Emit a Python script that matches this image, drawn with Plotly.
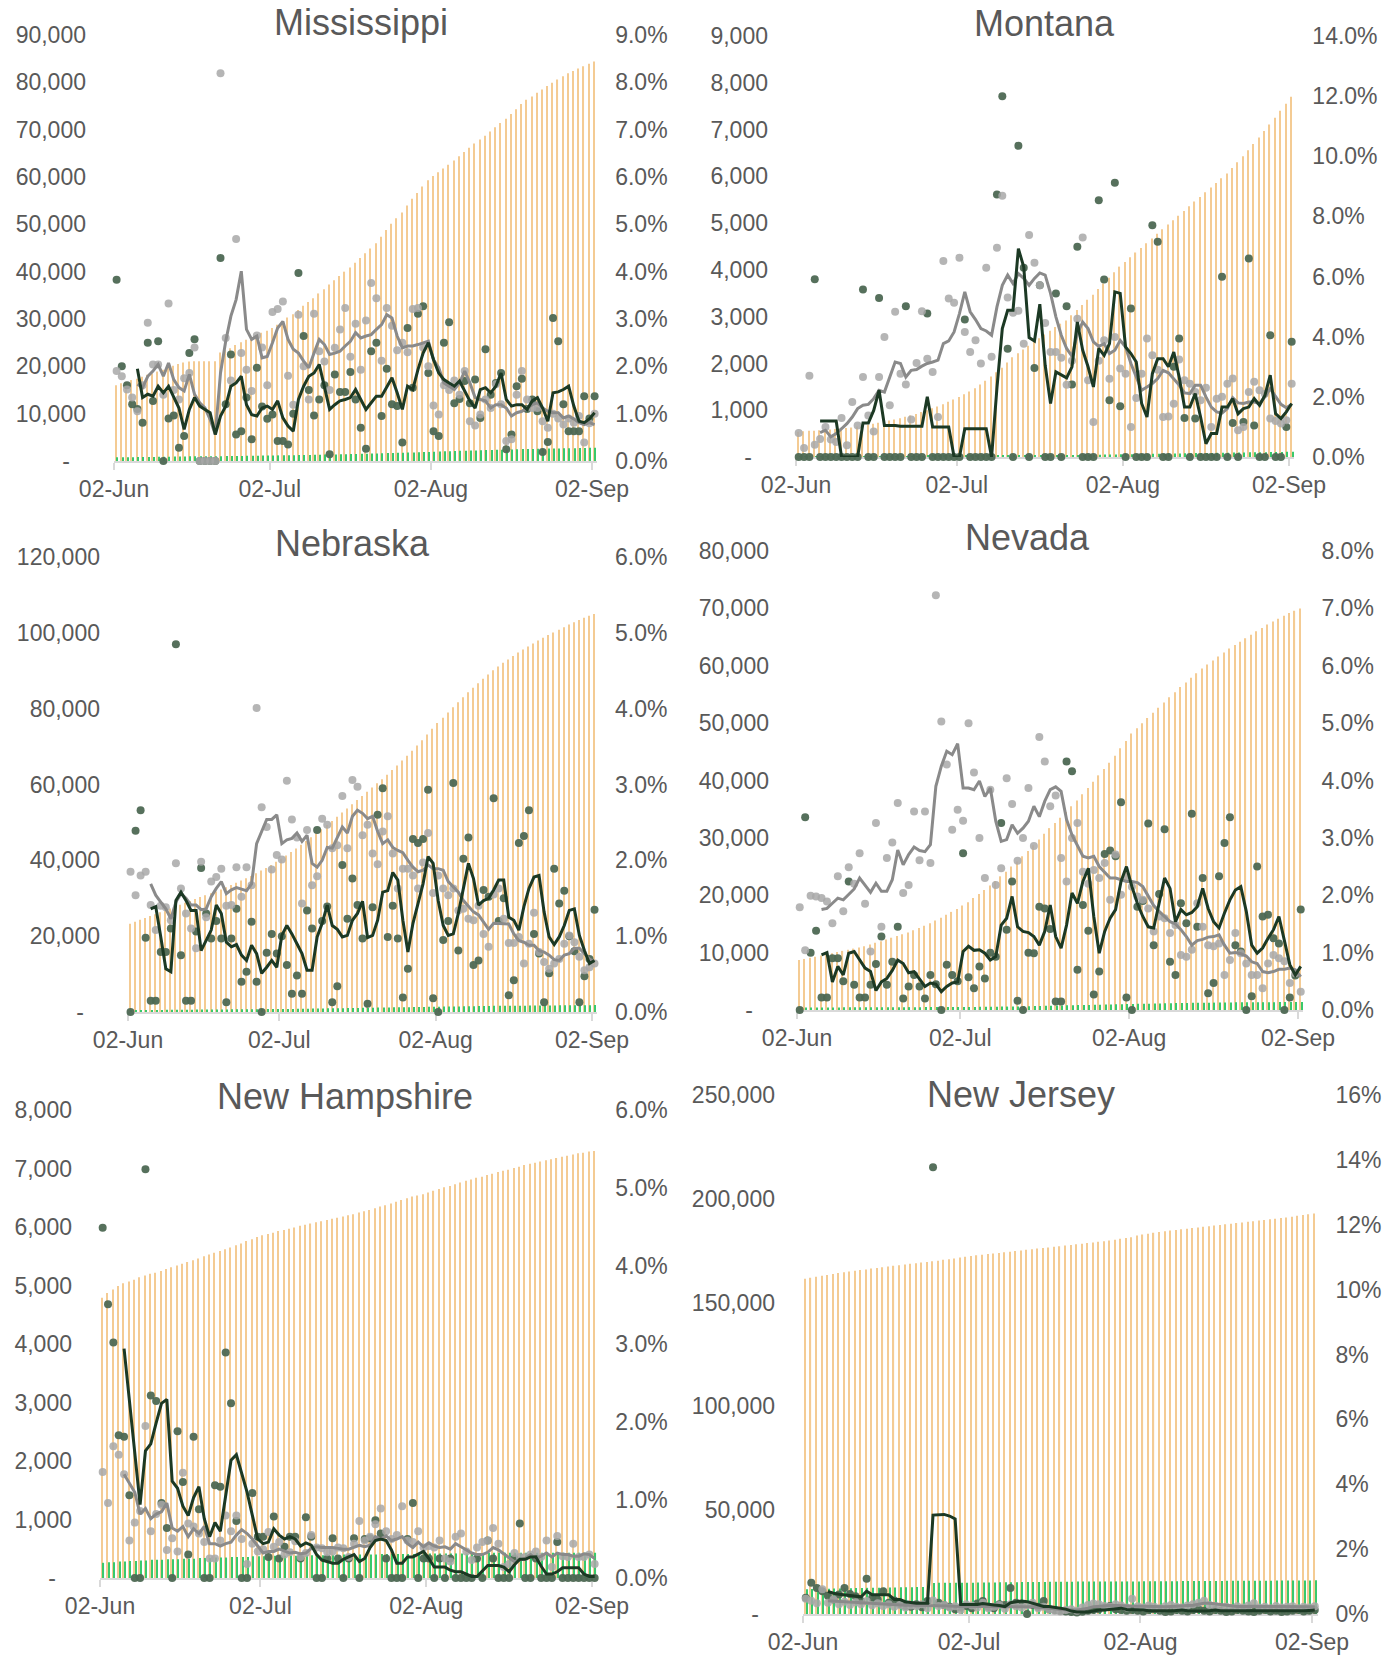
import datetime as dt
import plotly.graph_objects as go

W, H = 1387, 1656
START = dt.datetime(2020, 6, 2, 12)
DATES = [(START + dt.timedelta(days=i)).strftime("%Y-%m-%d %H:%M") for i in range(93)]
TICK_VALS = ["2020-06-02", "2020-07-02", "2020-08-02", "2020-09-02"]
TICK_TEXT = ["02-Jun", "02-Jul", "02-Aug", "02-Sep"]
N = None

# ---------------- Mississippi ----------------
MS_CASES = [16.0,16.4,16.7,17.1,17.4,17.8,18.2,18.5,18.9,19.3,
            19.7,20.1,20.5,20.8,21.0,21.1,21.1,21.1,21.1,21.1,
            22.9,23.4,23.8,24.5,25.1,25.6,26.2,26.6,27.1,27.5,
            28.1,28.8,29.5,30.3,31.0,31.9,32.8,33.6,34.4,35.4,
            36.3,37.3,38.2,39.1,40.0,40.9,41.9,42.9,43.9,44.9,
            46.0,47.4,48.8,50.1,51.3,52.5,54.0,55.4,56.6,58.0,
            59.3,60.2,61.0,61.8,62.6,63.5,64.4,65.3,66.2,67.1,
            67.9,68.7,69.6,70.5,71.4,72.3,73.3,74.3,75.4,76.3,
            77.0,77.8,78.5,79.2,79.9,80.6,81.3,81.9,82.4,82.9,
            83.4,83.9,84.4]
MS_DEATHS = [0.77,0.78,0.80,0.81,0.83,0.84,0.86,0.87,0.89,0.90,
             0.92,0.93,0.95,0.96,0.98,0.99,1.00,1.00,1.00,1.00,
             1.02,1.04,1.05,1.07,1.08,1.10,1.11,1.13,1.14,1.16,
             1.17,1.19,1.20,1.22,1.23,1.25,1.27,1.29,1.31,1.33,
             1.35,1.37,1.39,1.41,1.43,1.46,1.49,1.52,1.55,1.58,
             1.61,1.64,1.67,1.70,1.73,1.76,1.79,1.82,1.85,1.88,
             1.92,1.96,2.00,2.04,2.08,2.12,2.15,2.18,2.21,2.24,
             2.27,2.30,2.33,2.36,2.39,2.42,2.45,2.48,2.51,2.54,
             2.56,2.58,2.60,2.62,2.64,2.66,2.68,2.70,2.72,2.74,
             2.76,2.78,2.80]
MS_GDOTS = [1.90,1.79,1.51,1.34,1.05,1.60,2.92,2.04,2.04,1.40,
            3.33,1.50,1.30,1.75,1.86,2.40,0,0,0,0,
            8.19,2.60,1.70,4.69,2.28,1.93,1.48,2.65,2.40,1.60,
            3.15,3.21,3.37,1.80,1.19,3.09,2.00,1.30,3.11,2.32,
            2.10,1.50,2.39,2.78,3.23,2.20,2.90,1.93,2.97,3.76,
            3.44,2.12,3.23,2.86,2.34,2.50,2.30,3.21,3.23,2.40,
            2.00,1.17,0.98,1.60,1.50,1.70,1.40,1.90,0.84,0.75,
            0.98,1.30,1.12,1.62,1.20,0.42,0.46,1.40,1.90,1.30,
            1.12,1.12,0.84,0.70,1.00,0.90,0.77,0.90,0.81,0.95,
            0.39,0.80,1.00]
MS_DDOTS = [3.83,2.00,1.60,1.20,1.10,0.81,2.50,1.27,2.53,0,
            0.90,0.96,0.28,0.53,2.28,2.57,0,0,0,0,
            4.29,1.20,2.25,0.56,0.63,1.34,0.46,1.97,1.15,0.89,
            0.98,0.42,0.42,0.35,1.00,3.97,2.64,1.50,0.96,1.30,
            1.60,0.14,1.83,1.46,1.46,1.88,1.30,0.70,0.26,2.32,
            2.50,0.95,1.95,1.20,1.16,0.39,2.81,1.55,3.11,3.27,
            1.86,0.63,0.53,2.50,2.93,1.22,1.31,1.69,1.22,1.72,
            0.91,2.36,1.40,1.65,1.86,0.25,0.56,1.58,1.74,1.10,
            1.30,1.05,0.19,0.40,3.02,2.53,1.20,0.63,0.63,0.63,
            1.37,0.90,1.37]
MS_GLINE = [N,N,N,N,
            1.62,1.55,1.79,1.90,2.04,1.79,2.07,1.72,1.55,1.48,
            1.83,1.41,1.23,1.12,0.88,0.56,1.86,2.53,3.06,3.41,
            4.01,2.78,2.57,2.64,2.18,2.21,2.50,2.81,2.95,2.57,
            2.36,2.28,2.11,1.97,2.28,2.57,2.46,2.25,2.28,2.32,
            2.43,2.53,2.71,2.60,2.64,2.67,2.78,2.88,3.09,3.02,
            2.64,2.39,2.43,2.43,2.46,2.50,2.53,2.14,1.97,1.65,
            1.58,1.51,1.65,1.90,1.65,1.34,1.30,1.27,1.12,1.19,
            1.19,1.12,0.95,1.02,1.05,1.12,1.19,1.23,1.12,1.05,
            1.02,1.02,0.91,0.95,0.89,0.81,0.77,0.81,0.77]
MS_DLINE = [N,N,N,N,
            1.95,1.34,1.41,1.37,1.58,1.44,1.58,1.34,1.12,0.67,
            1.09,1.34,1.16,1.09,1.02,0.56,0.95,1.16,1.58,1.65,
            1.79,1.19,0.98,0.95,1.12,1.16,1.09,1.27,0.91,0.74,
            0.63,1.30,1.58,1.79,1.86,2.04,1.58,1.09,1.19,1.27,
            1.30,1.34,1.51,1.30,1.09,1.23,1.37,1.37,1.55,1.76,
            1.44,1.09,1.58,1.51,1.93,2.28,2.50,2.14,1.86,1.72,
            1.65,1.58,1.69,1.48,1.27,1.12,1.51,1.55,1.44,1.58,
            1.86,1.30,1.16,1.19,1.19,1.09,1.27,1.34,1.12,0.84,
            1.44,1.46,1.51,1.58,1.16,0.84,0.81,0.89,1.02]

# ---------------- Montana ----------------
MT_CASES = [0.54,0.55,0.56,0.56,0.57,0.58,0.59,0.60,0.61,0.62,
            0.63,0.65,0.67,0.69,0.71,0.73,0.75,0.78,0.80,0.83,
            0.86,0.89,0.92,0.96,1.00,1.04,1.08,1.13,1.18,1.23,
            1.28,1.34,1.40,1.47,1.55,1.63,1.72,1.81,1.91,2.02,
            2.13,2.22,2.30,2.38,2.46,2.54,2.62,2.70,2.78,2.85,
            2.92,3.03,3.14,3.25,3.36,3.47,3.59,3.71,3.83,3.95,
            4.07,4.17,4.27,4.37,4.47,4.57,4.67,4.77,4.87,4.97,
            5.06,5.16,5.26,5.36,5.46,5.56,5.66,5.76,5.86,5.96,
            6.06,6.18,6.30,6.43,6.56,6.69,6.83,6.97,7.11,7.25,
            7.40,7.55,7.70]
MT_DEATHS = [0.017,0.017,0.017,0.018,0.018,0.018,0.018,0.018,0.018,0.018,
             0.018,0.018,0.019,0.019,0.019,0.020,0.020,0.020,0.020,0.020,
             0.021,0.021,0.021,0.021,0.022,0.022,0.022,0.022,0.022,0.022,
             0.022,0.023,0.023,0.023,0.023,0.023,0.023,0.023,0.024,0.025,
             0.025,0.027,0.028,0.030,0.031,0.033,0.034,0.035,0.036,0.038,
             0.040,0.041,0.043,0.045,0.047,0.048,0.050,0.051,0.053,0.055,
             0.057,0.059,0.060,0.062,0.064,0.066,0.068,0.070,0.072,0.073,
             0.075,0.077,0.079,0.081,0.083,0.085,0.087,0.088,0.090,0.091,
             0.093,0.094,0.096,0.097,0.099,0.100,0.102,0.104,0.106,0.108,
             0.109,0.110,0.112]
MT_GDOTS = [0.80,0.30,2.70,0.41,0.60,1.00,0.58,0.50,1.30,0.39,
            1.83,1.05,2.66,1.38,0.85,2.66,3.99,1.72,4.83,2.77,
            2.41,1.25,3.13,4.85,3.27,2.83,1.33,6.52,5.27,5.13,
            6.63,4.16,3.49,3.88,3.11,6.29,3.33,6.96,8.69,5.30,
            4.80,4.86,3.77,7.38,6.46,5.71,4.46,3.49,3.49,3.30,
            2.40,3.20,4.60,7.30,2.55,1.16,3.20,3.88,2.60,3.99,
            2.94,2.77,1.00,1.96,2.77,3.94,3.38,2.90,1.33,1.35,
            1.77,3.24,2.55,2.44,2.16,1.89,2.30,1.00,1.94,2.00,
            2.44,2.61,0.89,1.00,2.16,2.50,2.22,2.10,1.28,1.20,
            1.11,1.22,2.44]
MT_DDOTS = [0,0,0,5.91,0,0,0,0,0,0,
            0,0,5.57,0,0,5.29,0,0,0,0,
            5.01,0,0,0,4.77,0,0,0,0,0,
            0,4.57,0,0,0,0,0,8.73,12.0,3.60,
            0,10.35,6.29,0,2.96,5.71,0,0,5.44,0,
            5.01,2.41,6.99,0,0,0,8.54,5.90,1.89,9.12,
            1.69,0,4.94,0,0,0,7.71,7.16,0,0,
            3.00,3.94,1.30,0,1.28,0,0,0,0,5.99,
            0,1.13,0,1.16,6.60,1.05,0,0,4.05,0,
            0,1.00,3.83]
MT_GLINE = [N,N,N,N,
            0.81,0.89,0.67,0.78,0.94,1.11,1.33,1.61,1.72,1.75,
            1.94,2.22,2.16,2.66,3.16,3.11,2.66,2.88,2.91,3.02,
            3.11,3.16,3.22,3.77,3.86,4.16,4.77,5.49,4.83,4.57,
            4.27,4.19,4.05,4.99,5.71,6.05,5.77,6.10,5.94,5.71,
            5.94,6.12,6.05,5.44,4.66,4.05,3.61,3.35,4.10,4.49,
            4.27,3.83,3.68,3.77,3.44,3.55,3.88,3.66,3.11,2.66,
            2.22,2.33,2.44,2.61,2.88,2.80,2.61,2.39,2.13,2.11,
            2.39,2.39,2.00,1.66,1.50,1.46,1.61,1.97,1.80,1.78,
            1.83,1.83,1.78,2.00,2.27,2.00,1.75,1.64,1.75]
MT_DLINE = [N,N,N,N,
            1.20,1.20,1.20,1.20,0,0,0,0,1.13,1.13,
            1.55,2.22,1.05,1.05,1.05,1.02,1.02,1.02,1.02,1.02,
            2.00,1.00,1.00,1.00,1.00,0,0,0.94,0.94,0.94,
            0.94,0.94,0,2.30,4.27,4.88,4.88,6.93,6.32,3.97,
            3.86,5.08,3.05,1.78,2.83,2.72,2.63,3.00,4.49,3.55,
            3.00,2.33,3.61,3.38,3.77,5.49,5.44,3.66,3.44,3.16,
            1.78,1.33,2.77,3.27,3.27,3.00,3.49,2.66,1.66,1.66,
            2.11,1.33,0.44,0.78,0.78,1.66,1.66,1.94,1.44,1.61,
            1.66,1.94,1.72,2.05,2.72,1.44,1.28,1.50,1.78]

# ---------------- Nebraska ----------------
NE_CASES = [23.3,23.8,24.3,24.8,25.3,25.8,26.3,26.8,27.3,27.8,
            28.3,28.8,29.3,29.8,30.3,30.8,31.3,31.8,32.3,32.9,
            33.5,34.1,34.7,35.3,35.9,36.6,37.3,38.0,38.8,39.6,
            40.4,41.3,42.2,43.1,44.1,45.1,46.1,47.1,48.2,49.3,
            50.4,51.5,52.6,53.7,54.8,55.9,57.0,58.1,59.2,60.3,
            61.4,62.6,63.8,65.0,66.3,67.6,68.9,70.3,71.7,73.2,
            74.7,76.2,77.6,79.0,80.4,81.7,83.0,84.3,85.5,86.7,
            87.9,89.0,90.1,91.1,92.1,93.0,93.9,94.8,95.6,96.4,
            97.2,98.0,98.7,99.4,100.1,100.8,101.5,102.2,102.8,103.4,
            104.0,104.5,105.0]
NE_DEATHS = [0.50,0.51,0.52,0.53,0.54,0.55,0.56,0.57,0.58,0.59,
             0.60,0.61,0.62,0.63,0.64,0.65,0.66,0.67,0.68,0.69,
             0.70,0.71,0.72,0.73,0.74,0.75,0.76,0.77,0.78,0.79,
             0.80,0.81,0.82,0.84,0.86,0.88,0.90,0.92,0.94,0.96,
             0.98,1.00,1.02,1.04,1.06,1.08,1.10,1.12,1.14,1.16,
             1.18,1.20,1.22,1.24,1.26,1.28,1.30,1.32,1.34,1.36,
             1.38,1.40,1.42,1.44,1.46,1.48,1.50,1.52,1.54,1.56,
             1.58,1.60,1.62,1.63,1.64,1.65,1.66,1.67,1.68,1.69,
             1.70,1.71,1.72,1.73,1.74,1.75,1.76,1.77,1.78,1.79,
             1.80,1.81,1.82]
NE_GDOTS = [1.85,1.54,1.80,1.85,1.41,1.08,1.40,1.38,1.21,1.96,
            1.63,1.30,1.10,0.84,1.98,1.25,1.72,1.78,1.89,1.40,
            1.41,1.91,1.52,1.91,1.67,4.01,2.70,2.44,1.88,2.07,
            2.01,3.05,2.54,2.30,1.43,2.40,1.67,1.79,2.55,2.47,
            2.16,2.20,2.85,2.16,3.06,2.97,2.33,2.47,2.09,1.95,
            2.38,2.58,2.09,1.63,1.89,1.89,1.80,1.63,1.97,2.36,
            1.57,1.80,1.63,1.54,1.63,1.34,1.36,1.23,1.21,1.40,
            1.03,0.86,1.55,1.63,1.23,0.91,0.91,0.99,0.64,0.90,
            1.31,0.79,0.66,0.57,0.64,0.70,0.90,1.01,0.92,0.73,
            0.55,0.59,0.64]
NE_DDOTS = [0,2.39,2.66,0.98,0.15,0.15,0.79,0.79,1.10,4.85,
            0.75,0.15,0.15,1.06,1.90,1.30,0.97,1.20,0.97,0.13,
            0.97,1.36,0.40,0.53,1.19,0.40,0,0.78,1.03,0.77,
            1.00,0.62,0.24,0.48,0.24,1.34,1.10,2.40,1.20,1.39,
            0.13,0.34,1.94,1.23,1.76,1.41,0.97,0.11,1.38,2.60,
            2.95,0.99,1.40,0.97,0.19,0.57,2.28,2.23,2.28,2.93,
            0.18,0,0.95,1.20,3.02,0.81,2.02,2.30,0.62,0.68,
            1.61,1.52,2.82,1.20,1.50,0.22,0.42,2.23,2.32,2.66,
            1.03,0.77,0.13,0.51,1.89,1.43,1.60,1.00,0.80,0.13,
            0.47,0.70,1.35]
NE_GLINE = [N,N,N,N,
            1.69,1.54,1.45,1.36,1.23,1.45,1.56,1.50,1.41,1.41,
            1.35,1.36,1.52,1.63,1.72,1.56,1.61,1.64,1.62,1.60,
            1.69,2.22,2.38,2.54,2.54,2.60,2.22,2.27,2.29,2.36,
            2.25,2.33,1.96,1.91,2.00,2.17,2.16,2.31,2.44,2.36,
            2.58,2.66,2.62,2.55,2.58,2.38,2.22,2.27,2.17,2.13,
            2.10,2.00,1.91,1.85,1.87,1.94,1.89,1.89,1.87,1.72,
            1.65,1.58,1.47,1.39,1.32,1.28,1.19,1.09,1.17,1.17,
            1.17,1.16,1.03,0.94,0.92,0.88,0.88,0.81,0.79,0.75,
            0.69,0.68,0.75,0.77,0.84,0.84,0.77,0.70,0.66]
NE_DLINE = [N,N,N,N,
            1.36,1.39,0.99,0.57,0.53,1.47,1.58,1.47,1.34,1.34,
            0.81,0.95,1.08,1.41,1.30,0.92,0.86,0.89,0.75,0.68,
            0.88,0.77,0.51,0.59,0.68,0.59,1.01,1.14,1.03,0.90,
            0.77,0.55,0.55,0.99,1.17,1.41,1.14,1.09,0.99,1.01,
            1.21,1.30,1.46,0.98,1.01,1.21,1.58,1.60,1.84,1.74,
            1.21,0.79,1.17,1.43,1.69,2.05,1.96,1.47,1.14,1.01,
            1.03,1.30,1.61,1.96,1.76,1.41,1.47,1.50,1.61,1.74,
            1.74,1.25,1.21,1.08,1.39,1.63,1.78,1.80,1.32,0.99,
            0.89,0.99,1.14,1.34,1.36,1.01,0.81,0.64,0.68]

# ---------------- Nevada ----------------
NV_CASES = [8.7,8.9,9.1,9.3,9.5,9.7,9.9,10.1,10.3,10.5,
            10.7,10.9,11.1,11.4,11.7,12.0,12.3,12.6,12.9,13.2,
            13.5,13.9,14.3,14.7,15.1,15.6,16.1,16.6,17.1,17.6,
            18.2,18.8,19.5,20.2,20.9,21.7,22.5,23.3,24.1,25.0,
            25.9,26.8,27.7,28.7,29.7,30.7,31.7,32.6,33.5,34.5,
            35.5,36.5,37.6,38.7,39.8,40.9,42.0,43.1,44.3,45.6,
            46.9,48.2,49.1,50.0,50.9,51.8,52.7,53.6,54.5,55.4,
            56.3,57.1,57.9,58.7,59.5,60.2,60.9,61.6,62.3,63.0,
            63.6,64.2,64.8,65.4,66.0,66.6,67.2,67.7,68.2,68.7,
            69.2,69.6,70.0]
NV_DEATHS = [0.43,0.43,0.44,0.44,0.44,0.45,0.45,0.45,0.46,0.46,
             0.46,0.47,0.47,0.47,0.48,0.48,0.48,0.49,0.49,0.49,
             0.50,0.50,0.50,0.51,0.51,0.51,0.51,0.51,0.52,0.52,
             0.52,0.53,0.54,0.55,0.56,0.57,0.58,0.59,0.60,0.61,
             0.63,0.65,0.67,0.69,0.71,0.73,0.75,0.77,0.79,0.81,
             0.83,0.85,0.87,0.89,0.91,0.93,0.95,0.97,0.99,1.01,
             1.03,1.05,1.07,1.09,1.11,1.13,1.15,1.17,1.19,1.21,
             1.22,1.24,1.25,1.26,1.27,1.28,1.29,1.30,1.31,1.32,
             1.33,1.34,1.35,1.35,1.36,1.36,1.37,1.37,1.38,1.38,
             1.39,1.39,1.40]
NV_GDOTS = [1.79,1.04,1.99,1.98,1.95,1.89,1.51,2.33,1.72,2.49,
            2.20,2.73,1.85,1.02,3.26,1.45,2.65,2.92,3.61,2.04,
            2.18,3.46,2.61,3.46,2.56,7.23,5.03,4.28,3.14,3.49,
            3.30,5.00,4.14,3.00,2.30,3.84,2.18,2.47,4.04,3.59,
            2.60,3.00,3.87,2.86,4.76,4.33,3.55,3.74,2.65,2.24,
            3.00,3.26,2.41,2.20,2.44,2.30,2.56,1.92,2.71,2.01,
            2.33,2.15,1.98,1.92,1.77,1.37,1.63,1.60,1.34,1.48,
            0.96,0.93,1.05,1.86,1.45,1.13,1.11,1.16,0.61,0.87,
            1.34,0.99,0.81,0.61,0.61,0.38,0.81,0.96,0.90,0.85,
            0.47,0.64,0.32]
NV_DDOTS = [0,3.36,1.00,1.38,0.22,0.22,0.90,0.90,0.50,2.24,
            0.44,0.22,0.22,0.44,0.80,1.28,0.44,0.84,1.45,0.20,
            0.41,0.61,0.41,0.20,0.61,0.45,0,0.79,0.61,0.50,
            2.73,0.57,0.38,0.76,0.55,1.00,0.93,3.26,1.40,2.24,
            0.16,0,1.00,0.99,1.80,1.77,1.41,0.15,0.15,4.33,
            4.16,0.70,1.83,1.38,0.27,0.67,2.72,2.78,2.68,3.62,
            0.22,0,1.80,1.90,3.25,1.13,2.02,3.15,0.84,0.61,
            1.86,1.51,3.42,1.45,2.30,0.29,0.47,2.33,2.91,3.36,
            1.13,1.02,0,0.24,2.50,1.63,1.66,1.25,1.16,0,
            0.22,0.60,1.75]
NV_GLINE = [N,N,N,N,
            1.75,1.77,1.86,1.95,1.92,2.01,2.11,2.30,2.18,2.05,
            2.21,2.07,2.07,2.27,2.79,2.53,2.71,2.84,2.78,2.76,
            2.88,3.90,4.25,4.51,4.45,4.64,3.87,3.87,3.84,3.99,
            3.72,3.87,3.29,2.94,2.97,3.23,3.08,3.17,3.29,3.55,
            3.37,3.64,3.84,3.89,3.81,3.32,3.05,2.85,2.68,2.65,
            2.68,2.50,2.39,2.30,2.30,2.27,2.24,2.24,2.22,2.15,
            1.98,1.82,1.72,1.63,1.54,1.50,1.40,1.28,1.13,1.21,
            1.23,1.27,1.28,1.31,1.13,0.99,1.00,0.98,0.94,0.84,
            0.81,0.67,0.65,0.67,0.71,0.71,0.73,0.70,0.58]
NV_DLINE = [N,N,N,N,
            0.96,1.00,0.49,0.76,0.61,0.99,1.02,0.88,0.73,0.67,
            0.34,0.49,0.55,0.69,0.87,0.81,0.65,0.67,0.54,0.41,
            0.47,0.45,0.32,0.41,0.47,0.49,1.02,1.11,1.04,1.05,
            0.99,0.87,0.93,1.48,1.60,1.98,1.45,1.37,1.35,1.28,
            1.13,1.37,1.83,1.28,1.08,1.48,2.04,1.86,2.24,2.47,
            1.63,0.99,1.37,1.60,1.75,2.24,2.50,2.15,1.86,1.63,
            1.45,1.43,1.86,2.30,2.12,1.54,1.75,1.66,1.70,1.80,
            2.12,1.77,1.54,1.43,1.69,1.92,2.09,2.15,1.72,1.13,
            0.99,1.08,1.25,1.40,1.63,1.19,0.79,0.61,0.76]

# ---------------- New Hampshire ----------------
NH_CASES = [4.79,4.87,4.93,4.99,5.04,5.07,5.10,5.14,5.17,5.20,
            5.22,5.25,5.28,5.31,5.34,5.37,5.40,5.43,5.46,5.50,
            5.53,5.56,5.59,5.62,5.65,5.69,5.72,5.76,5.79,5.83,
            5.86,5.88,5.90,5.93,5.95,5.97,5.99,6.02,6.04,6.06,
            6.08,6.10,6.12,6.14,6.16,6.18,6.20,6.22,6.25,6.27,
            6.29,6.32,6.35,6.37,6.40,6.43,6.46,6.49,6.52,6.54,
            6.56,6.59,6.62,6.65,6.68,6.70,6.73,6.76,6.79,6.81,
            6.84,6.86,6.89,6.91,6.94,6.96,6.98,7.01,7.03,7.06,
            7.08,7.10,7.12,7.14,7.16,7.18,7.20,7.22,7.24,7.26,
            7.27,7.29,7.30]
NH_DEATHS = [0.26,0.27,0.27,0.28,0.28,0.29,0.29,0.30,0.30,0.31,
             0.31,0.31,0.32,0.32,0.32,0.33,0.33,0.33,0.34,0.34,
             0.34,0.35,0.35,0.35,0.36,0.36,0.36,0.36,0.37,0.37,
             0.37,0.37,0.38,0.38,0.38,0.38,0.38,0.38,0.39,0.39,
             0.39,0.39,0.39,0.39,0.39,0.40,0.40,0.40,0.40,0.40,
             0.40,0.40,0.41,0.41,0.41,0.41,0.41,0.41,0.41,0.41,
             0.42,0.42,0.42,0.42,0.42,0.42,0.42,0.42,0.42,0.42,
             0.42,0.42,0.43,0.43,0.43,0.43,0.43,0.43,0.43,0.43,
             0.43,0.43,0.43,0.43,0.43,0.43,0.43,0.43,0.43,0.43,
             0.43,0.43,0.43]
NH_GDOTS = [1.36,0.96,1.69,1.58,1.33,0.48,0.71,0.86,1.95,0.60,
            0.82,0.94,0.36,0.51,0.34,1.35,0.70,0.66,0.57,0.46,
            0.25,0.25,0.48,0.80,0.60,0.80,0.50,0.18,0.44,0.34,
            0.37,0.59,0.40,0.46,0.30,0.33,0.47,0.27,0.32,0.55,
            0.39,0.38,0.33,0.34,0.39,0.38,0.27,0.44,0.73,0.48,
            0.53,0.69,0.89,0.60,0.50,0.55,0.92,0.48,0.46,0.60,
            0.39,0.41,0.39,0.48,0.25,0.21,0.53,0.57,0.34,0.23,
            0.39,0.46,0.48,0.64,0.44,0.14,0.18,0.32,0.27,0.27,
            0.30,0.34,0.27,0.48,0.14,0.54,0.28,0.27,0.44,0.27,
            0.27,0.30,0.18]
NH_DDOTS = [4.49,3.51,3.02,1.83,1.81,1.06,0,0,5.24,2.34,
            2.27,0.96,0.64,0,1.88,1.23,0.30,1.81,0.88,0,
            0,1.19,1.17,2.89,2.24,0.73,0,0,1.09,0.53,
            0.53,0.27,0.79,0.25,0.40,0.53,0.53,0.25,0.78,0.53,
            0,0,0.25,0.51,0.25,0,0.25,0.51,0,0.50,
            0.51,0.74,0.57,0.25,0,0,0,0.50,0.96,0,
            0.25,0.25,0,0.25,0,0.25,0,0,0,0,
            0.25,0,0.48,0.25,0,0,0,0.25,0.70,0,
            0,0.25,0,0,0,0.46,0,0,0,0,
            0,0,0]
NH_GLINE = [N,N,N,N,
            1.33,1.21,1.10,0.82,0.89,0.76,0.82,0.85,0.96,0.64,
            0.60,0.66,0.53,0.63,0.57,0.66,0.44,0.44,0.41,0.44,
            0.46,0.55,0.62,0.57,0.50,0.41,0.32,0.34,0.34,0.37,
            0.34,0.32,0.33,0.31,0.32,0.38,0.40,0.39,0.39,0.39,
            0.38,0.37,0.37,0.39,0.42,0.40,0.42,0.53,0.50,0.54,
            0.48,0.50,0.53,0.44,0.39,0.46,0.40,0.45,0.41,0.39,
            0.40,0.37,0.44,0.40,0.36,0.32,0.30,0.30,0.33,0.39,
            0.36,0.31,0.25,0.21,0.23,0.25,0.30,0.25,0.28,0.32,
            0.27,0.32,0.30,0.30,0.28,0.28,0.31,0.30,0.25]
NH_DLINE = [N,N,N,N,
            2.94,2.27,1.60,0.94,1.63,1.72,1.99,2.24,2.29,1.24,
            1.15,0.92,0.80,1.03,1.17,0.76,0.53,0.71,0.60,1.08,
            1.51,1.58,1.33,1.10,0.80,0.50,0.44,0.46,0.63,0.55,
            0.50,0.53,0.50,0.41,0.45,0.42,0.30,0.23,0.21,0.19,
            0.19,0.24,0.27,0.30,0.21,0.25,0.39,0.48,0.50,0.48,
            0.36,0.19,0.19,0.27,0.27,0.30,0.34,0.25,0.14,0.14,
            0.14,0.10,0.08,0.08,0.05,0.02,0.02,0.09,0.16,0.16,
            0.16,0.14,0.08,0.17,0.24,0.24,0.27,0.27,0.15,0.05,
            0.05,0.08,0.13,0.13,0.13,0.13,0.05,0.02,0.02]

# ---------------- New Jersey ----------------
NJ_CASES = [161.5,162.0,162.4,162.9,163.3,163.8,164.2,164.6,165.0,165.3,
            165.7,166.0,166.4,166.7,167.0,167.4,167.7,168.0,168.3,168.7,
            169.0,169.3,169.6,169.9,170.2,170.6,170.9,171.3,171.7,172.1,
            172.5,172.8,173.1,173.4,173.6,173.9,174.2,174.5,174.8,175.1,
            175.4,175.7,176.0,176.3,176.6,176.9,177.2,177.5,177.8,178.1,
            178.4,178.7,179.0,179.3,179.6,179.9,180.3,180.7,181.1,181.5,
            182.3,182.8,183.2,183.6,184.0,184.4,184.7,185.0,185.3,185.6,
            185.9,186.2,186.5,186.8,187.1,187.4,187.7,188.0,188.3,188.6,
            188.9,189.2,189.5,189.8,190.1,190.4,190.7,191.0,191.4,191.8,
            192.2,192.6,192.9]
NJ_DEATHS = [11.9,12.0,12.1,12.1,12.2,12.3,12.3,12.4,12.4,12.5,
             12.5,12.6,12.6,12.7,12.7,12.8,12.8,12.9,12.9,12.9,
             13.0,13.0,13.0,14.9,15.0,15.0,15.0,15.1,15.1,15.1,
             15.1,15.2,15.2,15.2,15.2,15.3,15.3,15.3,15.3,15.4,
             15.4,15.4,15.4,15.4,15.5,15.5,15.5,15.5,15.5,15.6,
             15.6,15.6,15.6,15.6,15.6,15.7,15.7,15.7,15.7,15.7,
             15.7,15.8,15.8,15.8,15.8,15.8,15.8,15.8,15.9,15.9,
             15.9,15.9,15.9,15.9,15.9,15.9,16.0,16.0,16.0,16.0,
             16.0,16.0,16.0,16.0,16.0,16.1,16.1,16.1,16.1,16.1,
             16.1,16.1,16.2]
NJ_GDOTS = [0.47,0.41,0.33,0.76,0.35,0.45,0.30,0.38,0.28,0.36,
            0.30,0.40,0.27,0.33,0.25,0.30,0.22,0.28,0.20,0.26,
            0.24,0.30,0.18,0.42,0.25,0.28,0.20,0.24,0.12,0.30,
            0.26,0.20,0.35,0.18,0.22,0.28,0.16,0.30,0.24,0.20,
            0.26,0.35,0.18,0.22,0.14,0.10,0.08,0.12,0.15,0.10,
            0.20,0.28,0.32,0.30,0.25,0.22,0.30,0.26,0.20,0.47,
            0.24,0.20,0.26,0.22,0.18,0.24,0.28,0.22,0.20,0.26,
            0.30,0.35,0.41,0.28,0.25,0.20,0.22,0.18,0.24,0.20,
            0.26,0.33,0.20,0.22,0.18,0.25,0.20,0.22,0.24,0.18,
            0.22,0.20,0.24]
NJ_DDOTS = [0.50,0.96,0.80,0.70,0.56,0.45,0.60,0.80,0.62,0.55,
            0.40,1.09,0.50,0.45,0.70,0.35,0.42,0.30,0.25,0.22,
            0.30,0.21,0.40,13.77,0.35,0.28,0.22,0.15,0.20,0.25,
            0.18,0.32,0.40,0.22,0.18,0.30,0.28,0.80,0.35,0.30,
            0.00,0.28,0.22,0.40,0.15,0.12,0.10,0.08,0.06,0.05,
            0.07,0.10,0.12,0.15,0.20,0.25,0.15,0.12,0.10,0.12,
            0.10,0.08,0.12,0.15,0.10,0.06,0.08,0.12,0.10,0.08,
            0.12,0.15,0.10,0.08,0.12,0.10,0.06,0.08,0.12,0.10,
            0.08,0.06,0.10,0.12,0.08,0.10,0.06,0.08,0.10,0.12,
            0.08,0.10,0.12]
NJ_GLINE = [N,N,N,N,
            0.41,0.40,0.38,0.36,0.35,0.34,0.33,0.32,0.31,0.30,
            0.30,0.29,0.29,0.28,0.27,0.27,0.27,0.26,0.26,0.27,
            0.27,0.26,0.25,0.24,0.24,0.24,0.23,0.23,0.24,0.24,
            0.23,0.23,0.22,0.23,0.24,0.24,0.23,0.22,0.21,0.20,
            0.18,0.16,0.14,0.12,0.12,0.12,0.14,0.18,0.22,0.24,
            0.25,0.26,0.26,0.25,0.24,0.25,0.24,0.24,0.23,0.23,
            0.23,0.22,0.23,0.24,0.24,0.25,0.27,0.30,0.33,0.33,
            0.31,0.28,0.25,0.24,0.23,0.23,0.24,0.24,0.23,0.23,
            0.22,0.22,0.23,0.23,0.22,0.22,0.23,0.23,0.22]
NJ_DLINE = [N,N,N,N,
            0.70,0.64,0.61,0.59,0.59,0.56,0.53,0.70,0.59,0.59,
            0.59,0.59,0.45,0.45,0.38,0.35,0.33,0.33,0.33,3.05,
            3.07,3.07,3.02,2.93,0.29,0.29,0.29,0.29,0.32,0.29,
            0.28,0.26,0.23,0.35,0.38,0.40,0.38,0.33,0.28,0.23,
            0.23,0.21,0.18,0.15,0.09,0.06,0.06,0.06,0.09,0.12,
            0.12,0.14,0.18,0.18,0.14,0.14,0.12,0.12,0.10,0.10,
            0.12,0.10,0.09,0.10,0.12,0.10,0.09,0.08,0.09,0.10,
            0.12,0.10,0.10,0.09,0.08,0.09,0.10,0.09,0.08,0.09,
            0.10,0.09,0.08,0.10,0.09,0.10,0.10,0.11,0.12]

# ---------------- panel setup ----------------
# px = (x of 02-Jun tick, x of 02-Sep tick, y of zero, y of axis top) in page pixels
PANELS = [
    dict(title="Mississippi", data=(MS_CASES, MS_DEATHS, MS_GDOTS, MS_DDOTS, MS_GLINE, MS_DLINE),
         px=(114, 592, 461, 35), lmax=90, lstep=10, rmax=9, rstep=1, rdec=1, tpos=(361, 23)),
    dict(title="Montana", data=(MT_CASES, MT_DEATHS, MT_GDOTS, MT_DDOTS, MT_GLINE, MT_DLINE),
         px=(796, 1289, 457, 36), lmax=9, lstep=1, rmax=14, rstep=2, rdec=1, tpos=(1044, 24)),
    dict(title="Nebraska", data=(NE_CASES, NE_DEATHS, NE_GDOTS, NE_DDOTS, NE_GLINE, NE_DLINE),
         px=(128, 592, 1012, 557), lmax=120, lstep=20, rmax=6, rstep=1, rdec=1, tpos=(352, 543)),
    dict(title="Nevada", data=(NV_CASES, NV_DEATHS, NV_GDOTS, NV_DDOTS, NV_GLINE, NV_DLINE),
         px=(797, 1298, 1010, 551), lmax=80, lstep=10, rmax=8, rstep=1, rdec=1, tpos=(1027, 537)),
    dict(title="New Hampshire", data=(NH_CASES, NH_DEATHS, NH_GDOTS, NH_DDOTS, NH_GLINE, NH_DLINE),
         px=(100, 592, 1578, 1110), lmax=8, lstep=1, rmax=6, rstep=1, rdec=1, tpos=(345, 1096)),
    dict(title="New Jersey", data=(NJ_CASES, NJ_DEATHS, NJ_GDOTS, NJ_DDOTS, NJ_GLINE, NJ_DLINE),
         px=(803, 1312, 1614, 1095), lmax=250, lstep=50, rmax=16, rstep=2, rdec=0, tpos=(1021, 1094)),
]

ORANGE = "#f4cb93"
GREEN = "#38c96c"
DARK_DOT = "#4d6853"
GRAY_DOT = "#a8a8a8"
DARK_LINE = "#1c3924"
GRAY_LINE = "#8a8a8a"
TXT = "#595959"
FONT = "Liberation Sans, Arial, sans-serif"
DAY_MS = 86400000

fig = go.Figure()
layout = dict(width=W, height=H, margin=dict(l=0, r=0, t=0, b=0),
              template="none", showlegend=False, barmode="overlay",
              plot_bgcolor="white", paper_bgcolor="white",
              font=dict(family=FONT, color=TXT, size=23), annotations=[])

for k, p in enumerate(PANELS, start=1):
    cases, deaths, gdots, ddots, gline, dline = p["data"]
    x0, x1, yz, yt = p["px"]
    ppd = (x1 - x0) / 92.0
    xref = "x" if k == 1 else f"x{k}"
    xname = "xaxis" if k == 1 else f"xaxis{k}"
    yl, yr = 2 * k - 1, 2 * k
    ylref = "y" if yl == 1 else f"y{yl}"
    ylname = "yaxis" if yl == 1 else f"yaxis{yl}"
    yrref, yrname = f"y{yr}", f"yaxis{yr}"

    fig.add_trace(go.Bar(x=DATES, y=cases, xaxis=xref, yaxis=ylref, marker_color=ORANGE,
                         marker_line_width=0, width=0.21 * DAY_MS, offset=-0.24 * DAY_MS))
    fig.add_trace(go.Bar(x=DATES, y=deaths, xaxis=xref, yaxis=ylref, marker_color=GREEN,
                         marker_line_width=0, width=0.20 * DAY_MS, offset=0.06 * DAY_MS))
    fig.add_trace(go.Scatter(x=DATES, y=ddots, xaxis=xref, yaxis=yrref, mode="markers",
                             cliponaxis=False,
                             marker=dict(size=8, color=DARK_DOT, opacity=0.95)))
    fig.add_trace(go.Scatter(x=DATES, y=gdots, xaxis=xref, yaxis=yrref, mode="markers",
                             cliponaxis=False,
                             marker=dict(size=8, color=GRAY_DOT, opacity=0.85)))
    fig.add_trace(go.Scatter(x=DATES, y=gline, xaxis=xref, yaxis=yrref, mode="lines",
                             cliponaxis=False,
                             line=dict(color=GRAY_LINE, width=3), connectgaps=False))
    fig.add_trace(go.Scatter(x=DATES, y=dline, xaxis=xref, yaxis=yrref, mode="lines",
                             cliponaxis=False,
                             line=dict(color=DARK_LINE, width=3), connectgaps=False))

    xdom = [x0 / W, (x1 + ppd) / W]
    ydom = [1 - yz / H, 1 - yt / H]
    layout[xname] = dict(domain=xdom, anchor=ylref, type="date",
                         range=["2020-06-02", "2020-09-03"],
                         tickmode="array", tickvals=TICK_VALS, ticktext=TICK_TEXT,
                         ticks="outside", ticklen=7, tickwidth=1.5, tickcolor="#d9d9d9",
                         showline=True, linecolor="#d9d9d9", linewidth=2, layer="below traces",
                         showgrid=False, zeroline=False, automargin=False,
                         ticklabelstandoff=-1, tickfont=dict(size=23, color=TXT, family=FONT))
    lvals = list(range(0, p["lmax"] + 1, p["lstep"]))
    ltext = ["-\u2002\u2009" if v == 0 else f"{v * 1000:,}" for v in lvals]
    layout[ylname] = dict(domain=ydom, anchor=xref, range=[0, p["lmax"]],
                          tickmode="array", tickvals=lvals, ticktext=ltext,
                          showgrid=False, zeroline=False, showline=False, ticks="",
                          automargin=False, ticklabelstandoff=27, layer="below traces",
                          tickfont=dict(size=23, color=TXT, family=FONT))
    rvals = list(range(0, p["rmax"] + 1, p["rstep"]))
    rtext = [f"{v:.{p['rdec']}f}%" for v in rvals]
    layout[yrname] = dict(domain=ydom, anchor=xref, overlaying=ylref, side="right",
                          range=[0, p["rmax"]], tickmode="array", tickvals=rvals, ticktext=rtext,
                          showgrid=False, zeroline=False, showline=False, ticks="",
                          automargin=False, ticklabelstandoff=17, layer="below traces",
                          tickfont=dict(size=23, color=TXT, family=FONT))
    tx, ty = p["tpos"]
    layout["annotations"].append(dict(text=p["title"], x=tx / W, y=1 - ty / H,
                                      xref="paper", yref="paper", xanchor="center",
                                      yanchor="middle", showarrow=False,
                                      font=dict(size=36, color=TXT, family=FONT)))

fig.update_layout(**layout)
fig.write_html("out.html", config={"displayModeBar": False},
               post_script="document.body.style.margin='0px';")
